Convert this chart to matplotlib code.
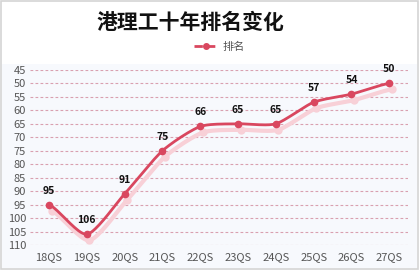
import matplotlib
matplotlib.use('Agg')
import matplotlib.pyplot as plt
import matplotlib.transforms as mtransforms
from matplotlib.patches import Rectangle
import numpy as np

plt.rcParams['font.family'] = ['Noto Sans CJK SC', 'DejaVu Sans']

# data
years = ['18QS', '19QS', '20QS', '21QS', '22QS', '23QS', '24QS', '25QS', '26QS', '27QS']
ranks = [95, 106, 91, 75, 66, 65, 65, 57, 54, 50]
y_ticks = [45, 50, 55, 60, 65, 70, 75, 80, 85, 90, 95, 100, 105, 110]

line_color = '#d9475f'
shadow_color = '#f8d0d7'


def smooth(xs, ys, n=20):
    # catmull-rom style curve through the points
    xs = np.asarray(xs, float)
    ys = np.asarray(ys, float)
    px = np.concatenate([[2 * xs[0] - xs[1]], xs, [2 * xs[-1] - xs[-2]]])
    py = np.concatenate([[ys[0]], ys, [ys[-1]]])
    out_x, out_y = [], []
    for i in range(1, len(px) - 2):
        t = np.linspace(0, 1, n, endpoint=False)
        for p, out in ((px, out_x), (py, out_y)):
            p0, p1, p2, p3 = p[i - 1], p[i], p[i + 1], p[i + 2]
            m1 = (p2 - p0) * 0.35
            m2 = (p3 - p1) * 0.35
            h00 = 2 * t**3 - 3 * t**2 + 1
            h10 = t**3 - 2 * t**2 + t
            h01 = -2 * t**3 + 3 * t**2
            h11 = t**3 - t**2
            out.extend(h00 * p1 + h10 * m1 + h01 * p2 + h11 * m2)
    out_x.append(xs[-1])
    out_y.append(ys[-1])
    return np.array(out_x), np.array(out_y)


fig = plt.figure(figsize=(4.19, 2.72), dpi=100)
fig.patch.set_facecolor('white')
# faint tinted panel behind the chart
fig.patches.append(Rectangle((0.005, 0.015), 0.99, 0.75, transform=fig.transFigure,
                             facecolor='#f7f9fd', edgecolor='none', zorder=-5))
fig.patches.append(Rectangle((0.002, 0.01), 0.995, 0.985, transform=fig.transFigure,
                             fill=False, edgecolor='#d4d4d4', linewidth=1.2, zorder=-4))

ax = fig.add_axes([0.072, 0.099, 0.902, 0.644])
ax.set_facecolor('none')

x = np.arange(len(years))
sx, sy = smooth(x, ranks)

shadow = mtransforms.offset_copy(ax.transData, fig=fig, x=2.5, y=-6, units='dots')
ax.plot(sx, sy, color=shadow_color, linewidth=3, transform=shadow, zorder=2,
        solid_capstyle='round')
ax.plot(x, ranks, 'o', color=shadow_color, markersize=5, transform=shadow, zorder=2)

ax.plot(sx, sy, color=line_color, linewidth=2, zorder=3)
ax.plot(x, ranks, 'o', color=line_color, markersize=4.5, zorder=4)
ax.plot([], [], color=line_color, linestyle=(0, (3, 1.5)), marker='o', markersize=4,
        linewidth=2, label='排名')

for xi, r in zip(x, ranks):
    ax.annotate(str(r), (xi, r), xytext=(0, 6.5), textcoords='offset points',
                ha='center', va='bottom', fontsize=7.5, fontweight='bold', color='#111111')

ax.set_xlim(-0.5, len(years) - 0.5)
ax.set_ylim(110, 45)
ax.set_yticks(y_ticks)
ax.set_xticks(x)
ax.set_xticklabels(years)
ax.tick_params(axis='both', length=0, labelsize=8, colors='#555555')
ax.tick_params(axis='x', pad=5)
ax.tick_params(axis='y', pad=3)
ax.yaxis.grid(True, linestyle=(0, (2.5, 2)), color='#d9a0b0', linewidth=0.8)
ax.set_axisbelow(True)
for s in ax.spines.values():
    s.set_visible(False)

fig.text(0.455, 0.918, '港理工十年排名变化', ha='center', va='center', fontsize=15,
         fontweight='bold', color='#111111')
ax.legend(loc='center', bbox_to_anchor=(0.5, 1.13), frameon=False, fontsize=8,
          handlelength=2.2, handletextpad=0.4, labelcolor='#555555')

fig.savefig('out.png', dpi=100)
